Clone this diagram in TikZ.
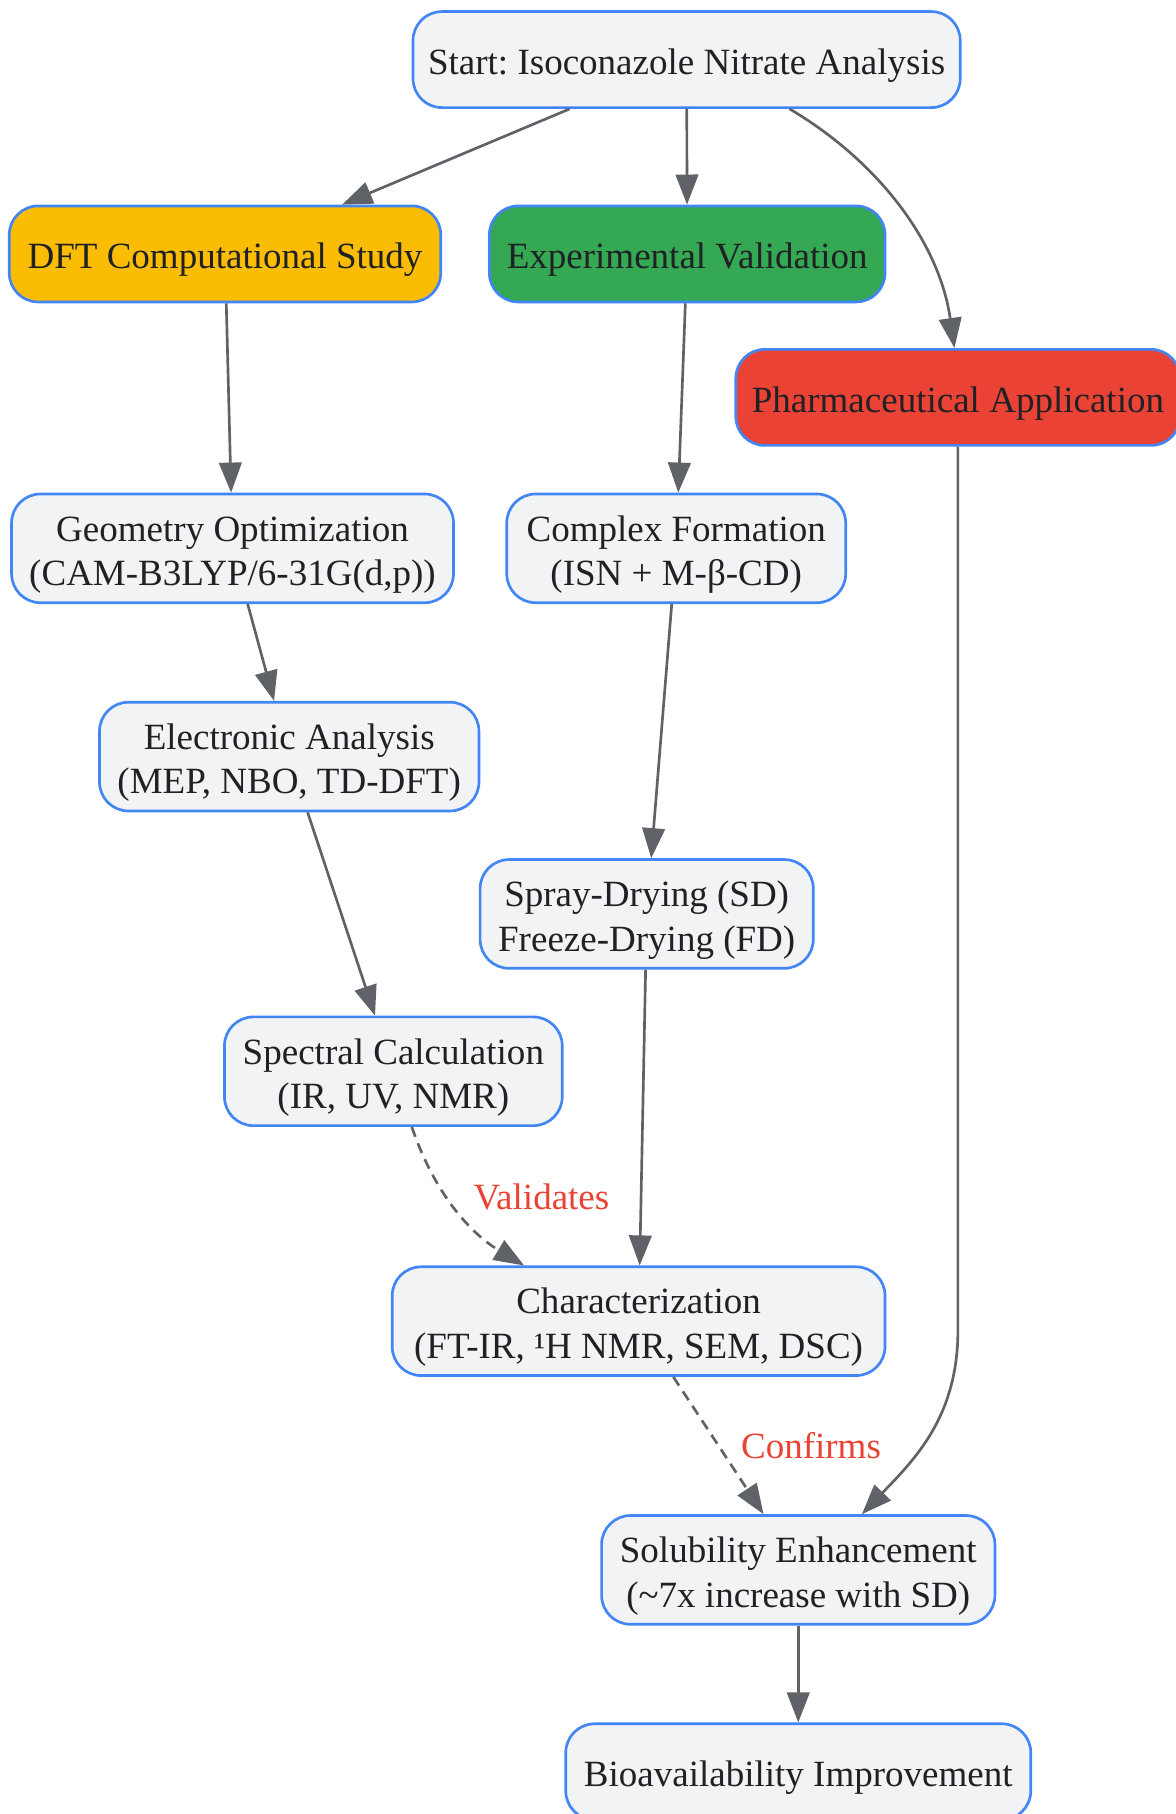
\documentclass[tikz,border=0pt]{standalone}
\usepackage{fontspec}
\setmainfont{Liberation Serif}
\usetikzlibrary{arrows.meta,calc}
\definecolor{nodefill}{HTML}{F1F3F4}
\definecolor{nodeline}{HTML}{4285F4}
\definecolor{yel}{HTML}{FBBC04}
\definecolor{grn}{HTML}{34A853}
\definecolor{rd}{HTML}{EA4335}
\definecolor{edgec}{HTML}{5F6368}
\definecolor{txt}{HTML}{202124}
\newcommand\mytopstrut{\rule{0pt}{34pt}}
\newcommand\mybotstrut{\rule[-8pt]{0pt}{8pt}}
\begin{document}
\frenchspacing
\begin{tikzpicture}[x=1pt,y=-1pt,
  box/.style={draw=nodeline, line width=2.3pt, fill=nodefill, rounded corners=25pt,
    align=center, text=txt, font=\fontsize{32}{38.5}\selectfont\frenchspacing, inner sep=0pt,
    minimum height=94pt},
  onebox/.style={box, minimum height=83pt},
  arr/.style={draw=edgec, line width=2.3pt, -{Triangle[length=26pt,width=19.5pt]}},
  darr/.style={arr, dash pattern=on 9pt off 6pt},
  lbl/.style={text=rd, font=\fontsize{32}{38}\selectfont, inner sep=0pt}]
\useasboundingbox (0,0) rectangle (1016,1568);
\fill[white] (0,0) rectangle (1016,1568);

\node[onebox, minimum width=473pt] (start) at (593.5,51.5) {\mytopstrut Start: Isoconazole Nitrate Analysis\mybotstrut};
\node[onebox, minimum width=373pt, fill=yel] (dft) at (194.5,219.5) {\mytopstrut DFT Computational Study\mybotstrut};
\node[onebox, minimum width=342pt, fill=grn] (exp) at (594,219.5) {\mytopstrut Experimental Validation\mybotstrut};
\node[onebox, minimum width=384pt, fill=rd] (pharm) at (828,343.5) {\mytopstrut Pharmaceutical Application\mybotstrut};
\node[box, minimum width=382pt] (geom) at (201,474) {\mytopstrut Geometry Optimization\\(CAM-B3LYP/6-31G(d,p))\mybotstrut};
\node[box, minimum width=293pt] (cplx) at (584.5,474) {\mytopstrut Complex Formation\\(ISN + M-β-CD)\mybotstrut};
\node[box, minimum width=328pt] (elec) at (250,654) {\mytopstrut Electronic Analysis\\(MEP, NBO, TD-DFT)\mybotstrut};
\node[box, minimum width=288pt] (spray) at (559,790) {\mytopstrut Spray-Drying (SD)\\Freeze-Drying (FD)\mybotstrut};
\node[box, minimum width=292pt] (spec) at (340,926) {\mytopstrut Spectral Calculation\\(IR, UV, NMR)\mybotstrut};
\node[box, minimum width=426pt] (char) at (552,1142) {\mytopstrut Characterization\\(FT-IR, ¹H NMR, SEM, DSC)\mybotstrut};
\node[box, minimum width=340pt] (sol) at (690,1357) {\mytopstrut Solubility Enhancement\\(\textasciitilde7x increase with SD)\mybotstrut};
\node[onebox, minimum width=402pt] (bio) at (690,1531.5) {\mytopstrut Bioavailability Improvement\mybotstrut};

\draw[arr] (start) -- (dft);
\draw[arr] (start) -- (exp);
\draw[arr] ($(start.south)+(89,0)$) .. controls (760,140) and (812,210) .. ($(pharm.north)+(-3,0)$);
\draw[arr] (dft) -- (geom);
\draw[arr] (exp) -- (cplx);
\draw[arr] (geom) -- (elec);
\draw[arr] (cplx) -- (spray);
\draw[arr] (elec) -- (spec);
\draw[arr] (spray) -- (char);
\draw[darr] ($(spec.south)+(16,0)$) .. controls (375,1030) and (405,1065) .. ($(char.north)+(-99,0)$);
\draw[darr] ($(char.south)+(30,0)$) -- ($(sol.north)+(-30,0)$);
\draw[arr] (pharm.south) -- (828,1150) .. controls (828,1225) and (790,1262) .. ($(sol.north)+(55,0)$);
\draw[arr] (sol) -- (bio);

\node[lbl] (lv) at (468,1035) {Validates};
\node[lbl] (lc) at (701,1250) {Confirms};
\end{tikzpicture}
\end{document}
